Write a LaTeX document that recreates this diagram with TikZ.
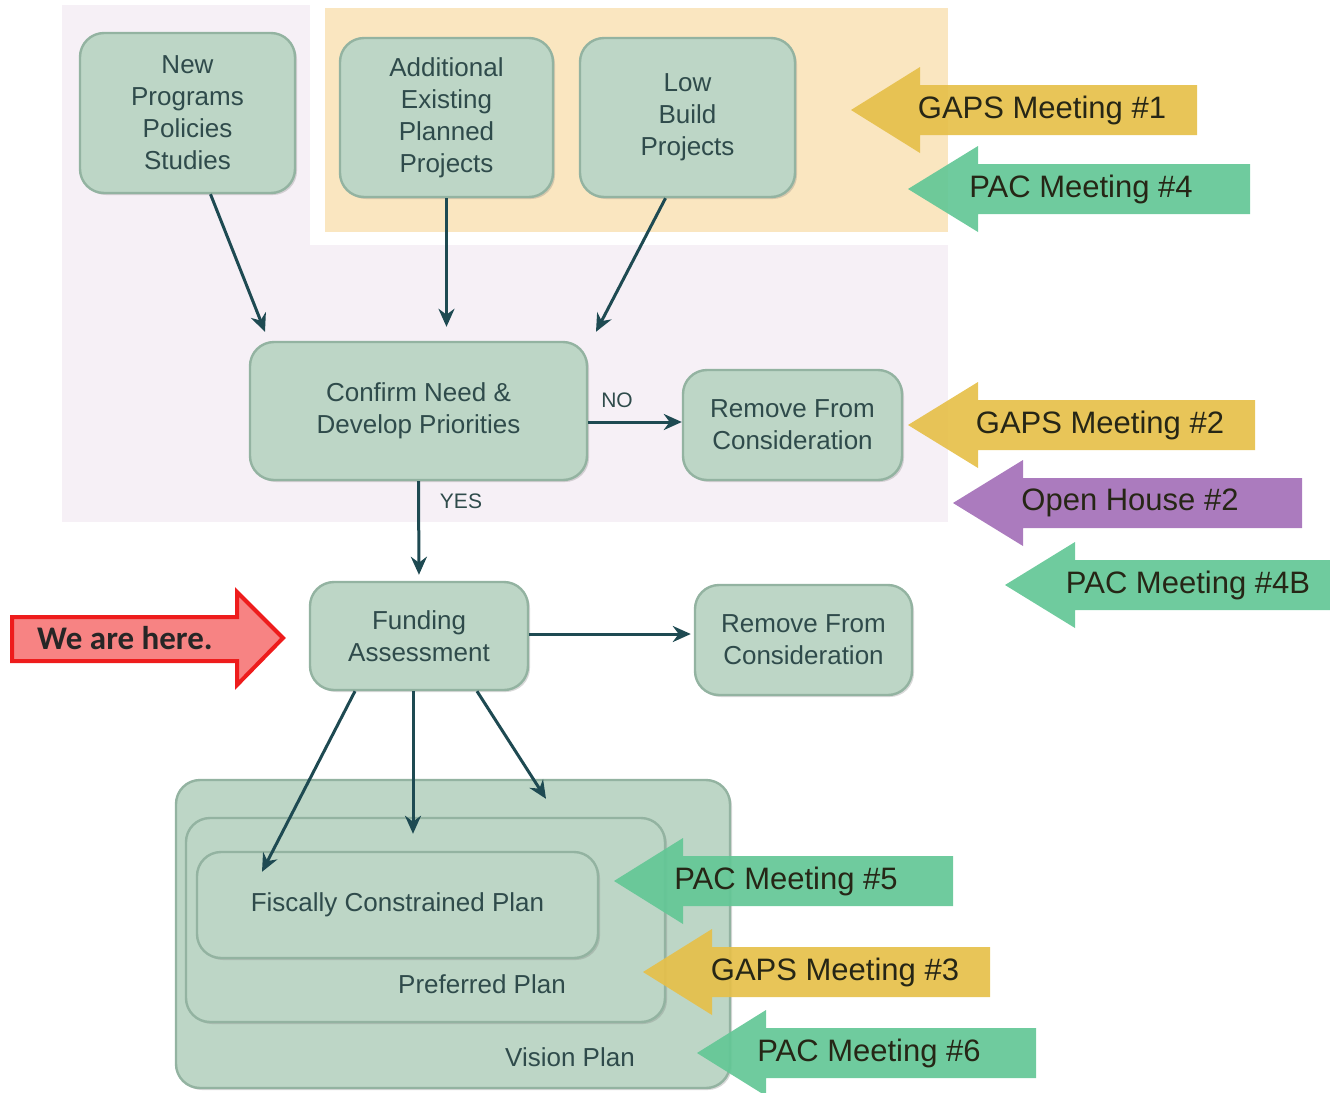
\documentclass[tikz,border=0pt]{standalone}
\usepackage{fontspec}
\setmainfont{Liberation Sans}
\newfontfamily\calib{Carlito}
\usetikzlibrary{shadows,arrows.meta}
\definecolor{lav}{HTML}{F6F0F6}
\definecolor{beige}{HTML}{FAE6C0}
\definecolor{boxfill}{HTML}{BDD6C6}
\definecolor{boxedge}{HTML}{93B3A1}
\definecolor{boxtext}{HTML}{2F4B4B}
\definecolor{flowcol}{HTML}{1E4A52}
\definecolor{gold}{HTML}{E6C04A}
\definecolor{mgreen}{HTML}{63C796}
\definecolor{mpurple}{HTML}{A470B8}
\definecolor{mtgtext}{HTML}{262616}
\definecolor{redfill}{HTML}{F78383}
\definecolor{redline}{HTML}{EE1C1C}
\newcommand\mtgarrow[5]{%
  \fill[#5, opacity=0.92] (#1,#2) -- (#3,#2-43) -- (#3,#2-25) -- (#4,#2-25) -- (#4,#2+25) -- (#3,#2+25) -- (#3,#2+43) -- cycle;}
\begin{document}
\begin{tikzpicture}[x=0.5pt,y=-0.5pt,
  box/.style={draw=boxedge, line width=1.2pt, fill=boxfill, rounded corners=12pt, align=center,
    text=boxtext, font=\fontsize{13}{16}\selectfont, inner sep=0pt,
    drop shadow={opacity=0.3, shadow xshift=1pt, shadow yshift=-1pt}},
  plainlbl/.style={text=boxtext, font=\fontsize{13}{16}\selectfont, inner sep=0pt},
  yn/.style={text=boxtext, font=\fontsize{10.5}{12}\selectfont, inner sep=0pt},
  flow/.style={-{Stealth[length=9pt,width=8pt]}, line width=1.5pt, draw=flowcol},
  mtg/.style={font=\fontsize{15.5}{18}\selectfont, text=mtgtext, inner sep=0pt},
]
\useasboundingbox (0,0) rectangle (1330,1093);
% backgrounds
\fill[lav] (62,5) rectangle (948,522);
\fill[white] (310,0) rectangle (948,245);
\fill[beige] (325,8) rectangle (948,232);

% boxes
\node[box, minimum width=107.5pt, minimum height=80pt] (np) at (187.5,113) {New\\Programs\\Policies\\Studies};
\node[box, minimum width=106.5pt, minimum height=79.5pt] (ae) at (446.5,117.5) {Additional\\Existing\\Planned\\Projects};
\node[box, minimum width=107.5pt, minimum height=79.5pt] (lb) at (687.5,117.5) {Low\\Build\\Projects};
\node[box, minimum width=168.5pt, minimum height=69pt] (cn) at (418.5,411) {Confirm Need \&\\Develop Priorities};
\node[box, minimum width=109.5pt, minimum height=55pt] (rc1) at (792.5,425) {Remove From\\Consideration};
\node[box, minimum width=109pt, minimum height=54pt] (fa) at (419,636) {Funding\\Assessment};
\node[box, minimum width=108.5pt, minimum height=55pt] (rc2) at (803.5,640) {Remove From\\Consideration};
\node[box, minimum width=277pt, minimum height=154pt] (vp) at (453,934) {};
\node[box, minimum width=239.5pt, minimum height=102pt] (pp) at (425.5,920) {};
\node[box, minimum width=200.5pt, minimum height=53pt] (fc) at (397.5,905) {Fiscally Constrained Plan};
\node[plainlbl] (vpl) at (570,1057) {Vision Plan};
\node[plainlbl] (ppl) at (482,984) {Preferred Plan};

% connectors
\draw[flow] ([xshift=11.5pt]np.south) -- ([xshift=-76.75pt,yshift=4.5pt]cn.north);
\draw[flow] (ae.south) -- ([xshift=14pt,yshift=7pt]cn.north);
\draw[flow] ([xshift=-11pt]lb.south) -- ([xshift=88.75pt,yshift=4.5pt]cn.north);
\draw[flow] ([yshift=-5.5pt]cn.east) -- ([yshift=1.5pt]rc1.west);
\draw[flow, shorten >=3pt] (cn.south) -- (fa.north);
\draw[flow] ([yshift=1pt]fa.east) -- ([yshift=3pt,xshift=-1.5pt]rc2.west);
\draw[flow] ([xshift=-32pt]fa.south) -- ([xshift=-67.75pt,yshift=-10.5pt]fc.north);
\draw[flow] ([xshift=-3pt]fa.south) -- ([xshift=-6.25pt,yshift=-8.5pt]pp.north);
\draw[flow] ([xshift=29pt]fa.south) -- ([xshift=46.5pt,yshift=-10pt]vp.north);
\node[yn] (no) at (617,400) {NO};
\node[yn] (yes) at (461,501) {YES};

% meeting arrows
\mtgarrow{851}{110}{920}{1197}{gold}
\node[mtg] (g1) at (1042,110) {GAPS Meeting \#1};
\mtgarrow{908}{189}{978}{1250}{mgreen}
\node[mtg] (p4) at (1081,189) {PAC Meeting \#4};
\mtgarrow{908}{425}{978}{1255}{gold}
\node[mtg] (g2) at (1100,425) {GAPS Meeting \#2};
\mtgarrow{953}{503}{1023}{1302}{mpurple}
\node[mtg] (oh) at (1130,503) {Open House \#2};
\mtgarrow{1005}{585}{1075}{1330}{mgreen}
\node[mtg] (p4b) at (1188,585) {PAC Meeting \#4B};
\mtgarrow{614}{881}{683}{953}{mgreen}
\node[mtg] (p5) at (786,881) {PAC Meeting \#5};
\mtgarrow{643}{972}{712}{990}{gold}
\node[mtg] (g3) at (835,972) {GAPS Meeting \#3};
\mtgarrow{697}{1053}{766}{1036}{mgreen}
\node[mtg] (p6) at (869,1053) {PAC Meeting \#6};

% we are here
\filldraw[fill=redfill, draw=redline, line width=2pt, line join=miter]
  (12,617) -- (237,617) -- (237,592) -- (283,638) -- (237,685) -- (237,661) -- (12,661) -- cycle;
\node[font=\calib\bfseries\fontsize{16.5}{19}\selectfont, text=black!85, inner sep=0pt] (here) at (125,638) {We are here.};
\end{tikzpicture}
\end{document}
